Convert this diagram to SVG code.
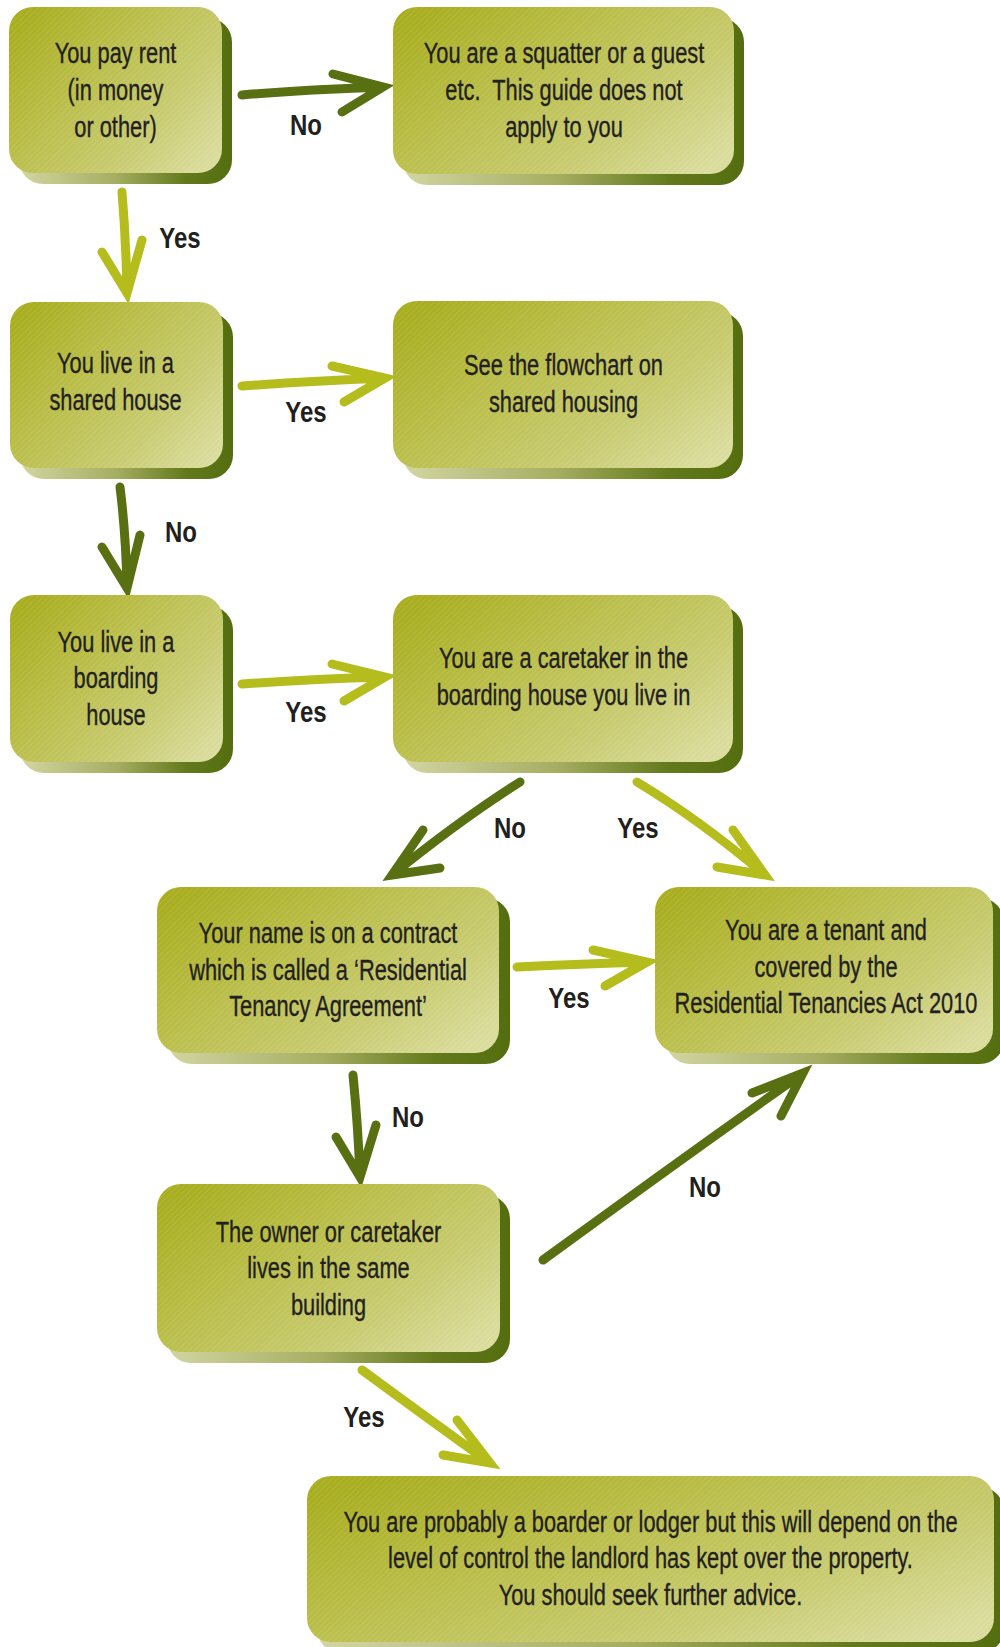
<svg xmlns="http://www.w3.org/2000/svg" width="1000" height="1647" viewBox="0 0 1000 1647">
<defs>
<linearGradient id="faceGrad" x1="0" y1="0.15" x2="1" y2="0.85">
<stop offset="0" stop-color="#a8ae1f"/>
<stop offset="0.35" stop-color="#b9bd47"/>
<stop offset="0.72" stop-color="#c8cb70"/>
<stop offset="1" stop-color="#dadc9c"/>
</linearGradient>
<linearGradient id="shadowGrad" x1="0" y1="0" x2="1" y2="0">
<stop offset="0" stop-color="#d2d5a2"/>
<stop offset="0.45" stop-color="#a6ae62"/>
<stop offset="0.78" stop-color="#637a1c"/>
<stop offset="1" stop-color="#536d0f"/>
</linearGradient>
<pattern id="hatch" width="4" height="4" patternUnits="userSpaceOnUse" patternTransform="rotate(45)">
<line x1="0" y1="0" x2="0" y2="4" stroke="#ffffff" stroke-opacity="0.22" stroke-width="1"/>
</pattern>
</defs>
<style>
.shadow{fill:url(#shadowGrad)}
.face{fill:url(#faceGrad)}
.hatch{fill:url(#hatch)}
.t{font-family:"Liberation Sans",Arial,sans-serif;font-size:29.5px;fill:#231f20;stroke:#231f20;stroke-width:0.35;text-anchor:middle}
.lbl{font-family:"Liberation Sans",Arial,sans-serif;font-size:30px;font-weight:bold;fill:#231f20;text-anchor:middle}
.dark,.light{fill:none;stroke-width:9;stroke-linecap:round;stroke-linejoin:miter;stroke-miterlimit:10}
.dark{stroke:#587012}
.light{stroke:#b5bd1c}
</style>
<rect width="1000" height="1647" fill="#ffffff"/>

<g id="connectors">
<path class="dark" d="M242,95 Q300,90 383,87 M333,74 L383,87 L342,112"/>
<path class="light" d="M122,192 Q126,240 127,293 M102,252 L127,293 L142,240"/>
<path class="light" d="M242,386 Q310,381 385,378 M332,366 L385,378 L344,402"/>
<path class="dark" d="M120,487 Q126,535 127,588 M102,547 L127,588 L140,535"/>
<path class="light" d="M242,684 Q310,679 385,677 M332,664 L385,677 L344,701"/>
<path class="dark" d="M520,782 Q460,820 392,875 M423,830 L392,875 L440,868"/>
<path class="light" d="M637,782 Q700,820 765,875 M733,830 L765,875 L717,867"/>
<path class="light" d="M517,967 Q580,964 647,962 M593,950 L647,962 L605,986"/>
<path class="dark" d="M353,1075 Q358,1125 360,1177 M336,1137 L360,1177 L376,1125"/>
<path class="dark" d="M543,1260 Q680,1160 803,1073 M752,1093 L803,1073 L781,1116"/>
<path class="light" d="M362,1370 Q430,1420 490,1463 M457,1420 L490,1463 L443,1455"/>
<g transform="translate(306 0) scale(0.8 1)"><text class="lbl" x="0" y="135">No</text></g>
<g transform="translate(180 0) scale(0.8 1)"><text class="lbl" x="0" y="248">Yes</text></g>
<g transform="translate(306 0) scale(0.8 1)"><text class="lbl" x="0" y="422">Yes</text></g>
<g transform="translate(181 0) scale(0.8 1)"><text class="lbl" x="0" y="542">No</text></g>
<g transform="translate(306 0) scale(0.8 1)"><text class="lbl" x="0" y="722">Yes</text></g>
<g transform="translate(510 0) scale(0.8 1)"><text class="lbl" x="0" y="838">No</text></g>
<g transform="translate(638 0) scale(0.8 1)"><text class="lbl" x="0" y="838">Yes</text></g>
<g transform="translate(569 0) scale(0.8 1)"><text class="lbl" x="0" y="1008">Yes</text></g>
<g transform="translate(408 0) scale(0.8 1)"><text class="lbl" x="0" y="1127">No</text></g>
<g transform="translate(705 0) scale(0.8 1)"><text class="lbl" x="0" y="1197">No</text></g>
<g transform="translate(364 0) scale(0.8 1)"><text class="lbl" x="0" y="1427">Yes</text></g>
</g>

<g id="n1">
<rect class="shadow" x="19" y="18" width="213" height="166" rx="24"/>
<rect class="face" x="9" y="7" width="213" height="166" rx="24"/>
<rect class="hatch" x="9" y="7" width="213" height="166" rx="24"/>
<text class="t" transform="translate(115.5 0) scale(0.74 1)"><tspan x="0" y="63">You pay rent</tspan><tspan x="0" y="100">(in money</tspan><tspan x="0" y="137">or other)</tspan></text>
</g>

<g id="n2">
<rect class="shadow" x="403" y="18" width="341" height="167" rx="24"/>
<rect class="face" x="393" y="7" width="341" height="167" rx="24"/>
<rect class="hatch" x="393" y="7" width="341" height="167" rx="24"/>
<text class="t" xml:space="preserve" transform="translate(564 0) scale(0.74 1)"><tspan x="0" y="63">You are a squatter or a guest</tspan><tspan x="0" y="100">etc.  This guide does not</tspan><tspan x="0" y="137">apply to you</tspan></text>
</g>

<g id="n3">
<rect class="shadow" x="20" y="313" width="213" height="166" rx="24"/>
<rect class="face" x="10" y="302" width="213" height="166" rx="24"/>
<rect class="hatch" x="10" y="302" width="213" height="166" rx="24"/>
<text class="t" transform="translate(115.5 0) scale(0.74 1)"><tspan x="0" y="373">You live in a</tspan><tspan x="0" y="410">shared house</tspan></text>
</g>

<g id="n4">
<rect class="shadow" x="403" y="312" width="340" height="167" rx="24"/>
<rect class="face" x="393" y="301" width="340" height="167" rx="24"/>
<rect class="hatch" x="393" y="301" width="340" height="167" rx="24"/>
<text class="t" transform="translate(563.5 0) scale(0.74 1)"><tspan x="0" y="375">See the flowchart on</tspan><tspan x="0" y="412">shared housing</tspan></text>
</g>

<g id="n5">
<rect class="shadow" x="20" y="606" width="213" height="167" rx="24"/>
<rect class="face" x="10" y="595" width="213" height="167" rx="24"/>
<rect class="hatch" x="10" y="595" width="213" height="167" rx="24"/>
<text class="t" transform="translate(116 0) scale(0.74 1)"><tspan x="0" y="652">You live in a</tspan><tspan x="0" y="688">boarding</tspan><tspan x="0" y="725">house</tspan></text>
</g>

<g id="n6">
<rect class="shadow" x="403" y="606" width="340" height="167" rx="24"/>
<rect class="face" x="393" y="595" width="340" height="167" rx="24"/>
<rect class="hatch" x="393" y="595" width="340" height="167" rx="24"/>
<text class="t" transform="translate(563.5 0) scale(0.74 1)"><tspan x="0" y="668">You are a caretaker in the</tspan><tspan x="0" y="705">boarding house you live in</tspan></text>
</g>

<g id="n7">
<rect class="shadow" x="168" y="898" width="342" height="166" rx="24"/>
<rect class="face" x="157" y="887" width="342" height="166" rx="24"/>
<rect class="hatch" x="157" y="887" width="342" height="166" rx="24"/>
<text class="t" transform="translate(328 0) scale(0.74 1)"><tspan x="0" y="943">Your name is on a contract</tspan><tspan x="0" y="980">which is called a ‘Residential</tspan><tspan x="0" y="1016">Tenancy Agreement’</tspan></text>
</g>

<g id="n8">
<rect class="shadow" x="666" y="898" width="338" height="166" rx="24"/>
<rect class="face" x="655" y="887" width="338" height="166" rx="24"/>
<rect class="hatch" x="655" y="887" width="338" height="166" rx="24"/>
<text class="t" transform="translate(826 0) scale(0.74 1)"><tspan x="0" y="940">You are a tenant and</tspan><tspan x="0" y="977">covered by the</tspan><tspan x="0" y="1013">Residential Tenancies Act 2010</tspan></text>
</g>

<g id="n9">
<rect class="shadow" x="167" y="1195" width="343" height="168" rx="24"/>
<rect class="face" x="157" y="1184" width="343" height="168" rx="24"/>
<rect class="hatch" x="157" y="1184" width="343" height="168" rx="24"/>
<text class="t" transform="translate(328.5 0) scale(0.74 1)"><tspan x="0" y="1242">The owner or caretaker</tspan><tspan x="0" y="1278">lives in the same</tspan><tspan x="0" y="1315">building</tspan></text>
</g>

<g id="n10">
<rect class="shadow" x="317" y="1487" width="687" height="166" rx="24"/>
<rect class="face" x="307" y="1476" width="687" height="166" rx="24"/>
<rect class="hatch" x="307" y="1476" width="687" height="166" rx="24"/>
<text class="t" transform="translate(650.5 0) scale(0.74 1)"><tspan x="0" y="1532">You are probably a boarder or lodger but this will depend on the</tspan><tspan x="0" y="1568">level of control the landlord has kept over the property.</tspan><tspan x="0" y="1605">You should seek further advice.</tspan></text>
</g>
</svg>
